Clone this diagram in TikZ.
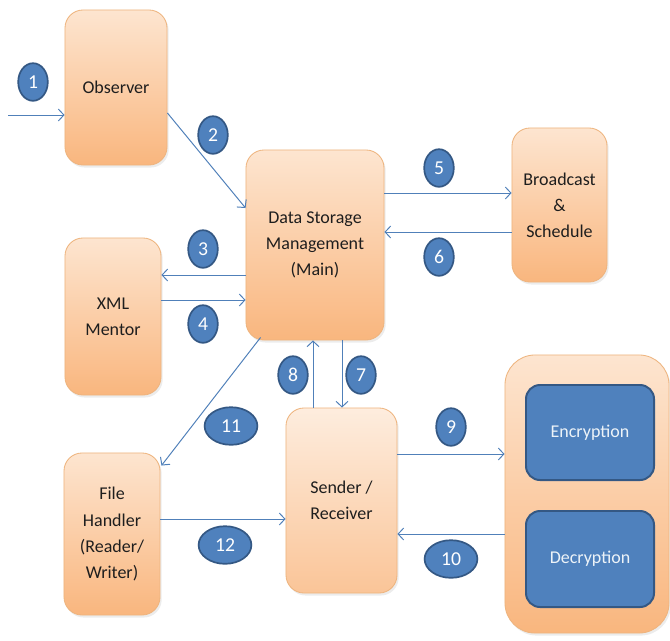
\documentclass[tikz,border=0pt]{standalone}
\usepackage{fontspec}
\setmainfont{Carlito}
\usepackage{tikz}
\usetikzlibrary{calc}
\usetikzlibrary{arrows.meta}
\usetikzlibrary{shapes.geometric}
\usetikzlibrary{shadows}

\definecolor{boxtop}{RGB}{253,229,208}
\definecolor{boxbot}{RGB}{249,182,126}
\definecolor{boxline}{RGB}{238,180,126}
\definecolor{tagblue}{RGB}{79,129,189}
\definecolor{tagline}{RGB}{52,88,132}
\definecolor{linkblue}{RGB}{80,128,185}
\definecolor{ink}{RGB}{30,30,30}

\tikzset{
	module/.style={rectangle,rounded corners=0.45cm,draw=boxline,line width=0.6pt,top color=boxtop,bottom color=boxbot,align=center,inner sep=2pt,text=ink,font=\fontsize{12.8}{18.5}\selectfont,drop shadow={opacity=0.15,shadow xshift=1.2pt,shadow yshift=-1.8pt}},
	palemodule/.style={module,top color=boxtop!70!white,bottom color=boxbot!80!white},
	cryptbox/.style={rectangle,rounded corners=0.35cm,draw=tagline,line width=1.4pt,fill=tagblue,text=white!90!tagblue,font=\fontsize{12.8}{18.5}\selectfont},
	tag/.style={ellipse,draw=tagline,line width=1.2pt,fill=tagblue,text=white,inner sep=0pt,minimum width=0.74cm,minimum height=0.94cm,font=\fontsize{14}{14}\selectfont},
	widetag/.style={tag,minimum width=1.32cm},
	link/.style={draw=linkblue,line width=0.7pt,-{Straight Barb[length=1.4mm,width=3mm]}}
}

\begin{document}
\begin{tikzpicture}[x=0.025cm,y=-0.025cm]
	\useasboundingbox (0,0) rectangle (670,640);
	\node[module,minimum width=2.55cm,minimum height=3.875cm] (obs) at (116,87.5) {Observer};
	\node[module,minimum width=3.45cm,minimum height=4.75cm] (dsm) at (315,245) {Data Storage\\Management\\(Main)};
	\node[module,minimum width=2.375cm,minimum height=3.85cm] (bcast) at (559.5,205) {Broadcast\\\&\\Schedule};
	\node[module,minimum width=2.4cm,minimum height=3.925cm] (xml) at (113,316.5) {XML\\Mentor};
	\node[module,minimum width=2.4cm,minimum height=4.05cm] (fh) at (112,534) {File\\Handler\\(Reader/\\Writer)};
	\node[palemodule,minimum width=2.775cm,minimum height=4.625cm] (sr) at (341.5,500.5) {Sender /\\Receiver};
	\node[module,rounded corners=0.75cm,minimum width=4.1cm,minimum height=6.95cm] (crypt) at (587,494) {};
	\node[cryptbox,minimum width=3.2cm,minimum height=2.375cm] (enc) at (590,432.5) {Encryption};
	\node[cryptbox,minimum width=3.2cm,minimum height=2.4cm] (dec) at (590,559) {Decryption};

	\coordinate (in1) at (8,115);
	\draw[link] (in1) -- (in1 -| obs.west);
	\draw[link] ($(obs.east)+(0,25.5)$) -- ($(dsm.west)+(0,-37)$);
	\draw[link] (dsm.west |- 0,275) -- (xml.east |- 0,275);
	\draw[link] (xml.east |- 0,300) -- (dsm.west |- 0,300);
	\draw[link] (dsm.east |- 0,193) -- (bcast.west |- 0,193);
	\draw[link] (bcast.west |- 0,232) -- (dsm.east |- 0,232);
	\draw[link] (dsm.south -| 342,0) -- (sr.north -| 342,0);
	\draw[link] (sr.north -| 313,0) -- (dsm.south -| 313,0);
	\draw[link] (sr.east |- 0,454) -- (crypt.west |- 0,454);
	\draw[link] (crypt.west |- 0,534) -- (sr.east |- 0,534);
	\draw[link] ($(dsm.south west)+(15,-3)$) -- ($(fh.north east)+(1,13)$);
	\draw[link] (fh.east |- 0,519) -- (sr.west |- 0,519);

	\foreach \n/\x/\y in {1/33/82,2/213/135,3/203/249,4/203/324,5/439/168,6/439/257,7/361/375,8/293/375,9/451/427}
		\node[tag] (tag\n) at (\x,\y) {\n};
	\foreach \n/\x/\y in {10/451/559,11/231/426,12/225/545}
		\node[widetag] (tag\n) at (\x,\y) {\n};
\end{tikzpicture}
\end{document}
